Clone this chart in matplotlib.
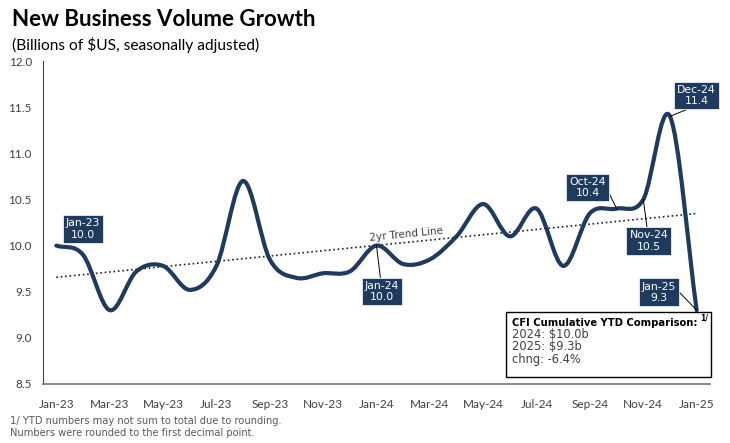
import numpy as np
import matplotlib.pyplot as plt
from matplotlib.path import Path
from matplotlib.patches import PathPatch, Rectangle

# monthly new business volume, billions of $US (seasonally adjusted)
months = ['Jan-23', 'Feb-23', 'Mar-23', 'Apr-23', 'May-23', 'Jun-23', 'Jul-23',
          'Aug-23', 'Sep-23', 'Oct-23', 'Nov-23', 'Dec-23', 'Jan-24', 'Feb-24',
          'Mar-24', 'Apr-24', 'May-24', 'Jun-24', 'Jul-24', 'Aug-24', 'Sep-24',
          'Oct-24', 'Nov-24', 'Dec-24', 'Jan-25']
volume = [10.0, 9.9, 9.3, 9.72, 9.78, 9.52, 9.78, 10.7, 9.85, 9.65, 9.7, 9.72,
          10.0, 9.8, 9.85, 10.1, 10.45, 10.1, 10.4, 9.78, 10.35, 10.4, 10.5,
          11.4, 9.3]
callouts = ['Jan-23', 'Jan-24', 'Oct-24', 'Nov-24', 'Dec-24', 'Jan-25']
ytd_title = 'CFI Cumulative YTD Comparison:'
ytd_lines = ['2024: $10.0b', '2025: $9.3b', 'chng: -6.4%']
yticks = [8.5, 9.0, 9.5, 10.0, 10.5, 11.0, 11.5, 12.0]

navy = '#1f3a5f'
grey = '#404040'
W, H = 730, 443

x = np.arange(len(months))
y = np.array(volume)

fig = plt.figure(figsize=(W / 100, H / 100), dpi=100)
ax = fig.add_axes([43 / W, 1 - 384 / H, (710 - 43) / W, (384 - 61) / H])
ax.set_xlim(-0.5, 24.5)
ax.set_ylim(8.5, 12.0)

# smoothed line (catmull-rom -> bezier, like excel's smoothed line)
pts = np.column_stack([x, y])
ext = np.vstack([2 * pts[0] - pts[1], pts, 2 * pts[-1] - pts[-2]])
verts = [pts[0]]
codes = [Path.MOVETO]
for i in range(len(pts) - 1):
    p0, p1, p2, p3 = ext[i], ext[i + 1], ext[i + 2], ext[i + 3]
    verts += [p1 + (p2 - p0) / 6, p2 - (p3 - p1) / 6, p2]
    codes += [Path.CURVE4] * 3
ax.add_patch(PathPatch(Path(verts, codes), fill=False, ec=navy, lw=3,
                       capstyle='round', joinstyle='round', zorder=3))

# 2yr trend line
k, b = np.polyfit(x, y, 1)
ax.plot(x, k * x + b, ls=':', color='#222222', lw=1.2, zorder=2)
p = ax.transData.transform([[0, b], [24, 24 * k + b]])
ang = np.degrees(np.arctan2(p[1, 1] - p[0, 1], p[1, 0] - p[0, 0]))
ax.annotate('2yr Trend Line', xy=(13.1, 13.1 * k + b), xytext=(0, 6),
            textcoords='offset points', ha='center', va='center',
            rotation=ang, rotation_mode='anchor', fontsize=7.5, color=grey,
            family='DejaVu Sans')

# callout boxes
style = {
    'Jan-23': ((19, 12), None),
    'Jan-24': ((4, -33), 'arc3'),
    'Oct-24': ((-21, 15), 'arc,angleA=0,armA=19,armB=0,rad=0'),
    'Nov-24': ((4, -30), 'arc3'),
    'Dec-24': ((19, 15), 'arc,angleA=-90,armA=10,armB=0,rad=0'),
    'Jan-25': ((-27, 13), 'arc,angleA=0,armA=20,armB=0,rad=0'),
}
for m in callouts:
    i = months.index(m)
    off, conn = style[m]
    arrow = None
    if conn:
        arrow = dict(arrowstyle='-', color='black', lw=0.7, shrinkA=0,
                     shrinkB=0, connectionstyle=conn)
    ax.annotate(f'{m}\n{volume[i]:.1f}', xy=(i, volume[i]), xytext=off,
                textcoords='offset points', ha='center', va='center',
                color='white', fontsize=7.8, linespacing=1.15,
                family='DejaVu Sans', zorder=5, arrowprops=arrow,
                bbox=dict(boxstyle='square,pad=0.28', fc=navy, ec='white', lw=0.5))

# axes styling
ax.set_xticks(x[::2])
ax.set_xticklabels(months[::2])
ax.set_yticks(yticks)
ax.set_yticklabels([f'{v:.1f}' for v in yticks])
ax.tick_params(length=0, labelsize=8.5, labelcolor=grey)
ax.tick_params(axis='x', pad=11)
ax.tick_params(axis='y', pad=8)
for lab in ax.get_xticklabels() + ax.get_yticklabels():
    lab.set_family('Lato')
for s in ['top', 'right']:
    ax.spines[s].set_visible(False)
ax.spines['left'].set_color(grey)
ax.spines['bottom'].set_color('#7f7f7f')
ax.spines['bottom'].set_linewidth(1.3)

# titles
fig.text(12 / W, 1 - 19 / H, 'New Business Volume Growth', fontsize=16,
         weight='bold', va='center', family='Lato', color='black')
fig.text(12 / W, 1 - 45 / H, '(Billions of $US, seasonally adjusted)',
         fontsize=11.2, va='center', family='Lato', color='black')

# YTD comparison box
fig.add_artist(Rectangle((506 / W, 1 - 377 / H), 205 / W, 65 / H,
                         transform=fig.transFigure, fc='white', ec='black',
                         lw=1, zorder=6))
fig.text(512 / W, 1 - 323 / H, ytd_title, fontsize=7.2, weight='bold',
         va='center', family='DejaVu Sans', zorder=7)
fig.text(700 / W, 1 - 318 / H, '1/', fontsize=5.5, weight='bold',
         va='center', family='DejaVu Sans', zorder=7)
for j, line in enumerate(ytd_lines):
    fig.text(512 / W, 1 - (335 + 12 * j) / H, line, fontsize=8.3, color=grey,
             va='center', family='DejaVu Sans', zorder=7)

# footnote
fig.text(10 / W, 1 - 421 / H, '1/ YTD numbers may not sum to total due to rounding.',
         fontsize=7.1, color='#595959', va='center', family='DejaVu Sans')
fig.text(10 / W, 1 - 433 / H, 'Numbers were rounded to the first decimal point.',
         fontsize=7.1, color='#595959', va='center', family='DejaVu Sans')

fig.savefig('out.png', dpi=100)
